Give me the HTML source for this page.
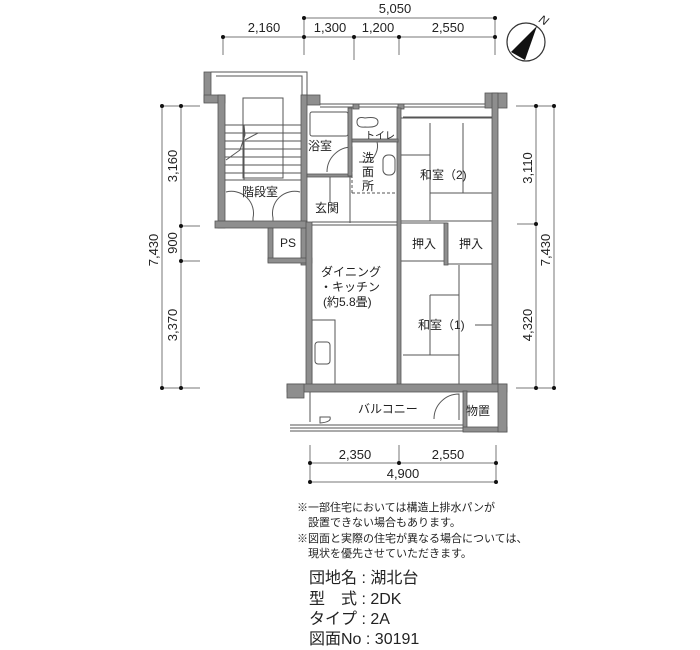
<!DOCTYPE html>
<html><head><meta charset="utf-8"><style>
body{margin:0;background:#fff;width:700px;height:650px;overflow:hidden;font-family:"Liberation Sans","Noto Sans CJK JP",sans-serif;}
svg{position:absolute;left:0;top:0}
.t{font-family:"Liberation Sans","Noto Sans CJK JP",sans-serif;fill:#222}
</style></head><body>
<svg width="700" height="650" viewBox="0 0 700 650">
<g stroke="#777" stroke-width="1" fill="none">
 <line x1="304" y1="18" x2="495" y2="18"/>
 <line x1="223" y1="37" x2="495" y2="37"/>
 <line x1="223" y1="37" x2="223" y2="55"/>
 <line x1="304" y1="18" x2="304" y2="55"/>
 <line x1="354" y1="37" x2="354" y2="60"/>
 <line x1="399" y1="37" x2="399" y2="55"/>
 <line x1="495" y1="18" x2="495" y2="55"/>
 <line x1="162" y1="106" x2="162" y2="388"/>
 <line x1="181" y1="106" x2="181" y2="388"/>
 <line x1="162" y1="106" x2="200" y2="106"/>
 <line x1="162" y1="388" x2="200" y2="388"/>
 <line x1="181" y1="226" x2="200" y2="226"/>
 <line x1="181" y1="261" x2="200" y2="261"/>
 <line x1="536" y1="106" x2="536" y2="388"/>
 <line x1="554" y1="106" x2="554" y2="388"/>
 <line x1="516" y1="106" x2="554" y2="106"/>
 <line x1="516" y1="388" x2="554" y2="388"/>
 <line x1="517" y1="224" x2="536" y2="224"/>
 <line x1="310" y1="463" x2="496" y2="463"/>
 <line x1="310" y1="482" x2="496" y2="482"/>
 <line x1="310" y1="445" x2="310" y2="482"/>
 <line x1="399" y1="445" x2="399" y2="463"/>
 <line x1="496" y1="445" x2="496" y2="482"/>
</g>
<g fill="#111">
 <circle cx="304" cy="18" r="2"/><circle cx="495" cy="18" r="2"/>
 <circle cx="223" cy="37" r="2"/><circle cx="304" cy="37" r="2"/><circle cx="354" cy="37" r="2"/><circle cx="399" cy="37" r="2"/><circle cx="495" cy="37" r="2"/>
 <circle cx="162" cy="106" r="2"/><circle cx="181" cy="106" r="2"/><circle cx="162" cy="388" r="2"/><circle cx="181" cy="388" r="2"/><circle cx="181" cy="226" r="2"/><circle cx="181" cy="261" r="2"/>
 <circle cx="536" cy="106" r="2"/><circle cx="554" cy="106" r="2"/><circle cx="536" cy="388" r="2"/><circle cx="554" cy="388" r="2"/><circle cx="536" cy="224" r="2"/>
 <circle cx="310" cy="463" r="2"/><circle cx="399" cy="463" r="2"/><circle cx="496" cy="463" r="2"/><circle cx="310" cy="482" r="2"/><circle cx="496" cy="482" r="2"/>
</g>
<g class="t" font-size="13" text-anchor="middle">
 <text x="395" y="13">5,050</text>
 <text x="264" y="32">2,160</text>
 <text x="330" y="32">1,300</text>
 <text x="378" y="32">1,200</text>
 <text x="448" y="32">2,550</text>
 <text x="355" y="459">2,350</text>
 <text x="448" y="459">2,550</text>
 <text x="403" y="478">4,900</text>
 <text transform="translate(177,166) rotate(-90)">3,160</text>
 <text transform="translate(177,243) rotate(-90)">900</text>
 <text transform="translate(177,325) rotate(-90)">3,370</text>
 <text transform="translate(158,250) rotate(-90)">7,430</text>
 <text transform="translate(532,168) rotate(-90)">3,110</text>
 <text transform="translate(532,325) rotate(-90)">4,320</text>
 <text transform="translate(550,250) rotate(-90)">7,430</text>
</g>
<circle cx="526" cy="42" r="19" fill="none" stroke="#333" stroke-width="1.2"/>
<polygon points="537,26 511,52 525,60" fill="#111"/>
<text x="540" y="22" font-size="12" font-style="italic" class="t" transform="rotate(30 540 18)">N</text>

<g stroke="#555" stroke-width="1" fill="none">
 <path d="M211 72 H307 V95"/>
 <path d="M216 76 H302 V95"/>
 <rect x="243" y="98" width="40" height="80"/>
 <line x1="225" y1="125" x2="302" y2="125"/><line x1="225" y1="133" x2="302" y2="133"/>
 <line x1="225" y1="141" x2="302" y2="141"/><line x1="225" y1="149" x2="302" y2="149"/>
 <line x1="225" y1="157" x2="302" y2="157"/><line x1="225" y1="165" x2="302" y2="165"/>
 <line x1="225" y1="173" x2="302" y2="173"/><line x1="225" y1="180" x2="302" y2="180"/>
 <path d="M226 160 L240 150 L245 135 L244 125 M245 140 L258 133"/>
 <line x1="244" y1="125" x2="244" y2="180"/>
 <path d="M226 192 A22 22 0 0 1 253 218 L253 222"/>
 <path d="M300 192 A22 22 0 0 0 273 218 L273 222"/>
 <line x1="320" y1="104" x2="485" y2="104"/><line x1="320" y1="107" x2="485" y2="107"/>
 <line x1="403" y1="117" x2="493" y2="117"/>
 <rect x="310" y="112" width="38" height="24" rx="2"/>
 <path d="M330 203 L330 175 M350 174 L350 223"/>
 <path d="M327 172 A25 25 0 0 1 352 147 L352 172"/>
 <path d="M357 122 Q357 116 365 118 Q378 116 378 122 Q378 128 365 127 Q357 128 357 122"/>
 <path d="M376 139 Q381 150 370 162 L359 162"/>
 <rect x="383" y="155" width="12" height="20" rx="5"/>
 <path d="M352 193 H398" stroke-dasharray="3,2"/>
 <path d="M352 175 V193" stroke-dasharray="3,2"/>
 <line x1="401" y1="118" x2="493" y2="118"/>
 <line x1="430" y1="123" x2="430" y2="221"/>
 <line x1="463" y1="123" x2="463" y2="193"/>
 <line x1="401" y1="155" x2="430" y2="155"/>
 <line x1="430" y1="193" x2="493" y2="193"/>
 <line x1="401" y1="221" x2="493" y2="221"/>
 <line x1="400" y1="223" x2="447" y2="223"/><line x1="400" y1="261" x2="447" y2="261"/>
 <line x1="447" y1="264" x2="493" y2="264"/>
 <line x1="459" y1="265" x2="459" y2="390"/>
 <line x1="430" y1="295" x2="459" y2="295"/>
 <line x1="430" y1="295" x2="430" y2="355"/>
 <line x1="403" y1="355" x2="459" y2="355"/>
 <line x1="475" y1="325" x2="493" y2="325"/>
 <rect x="312" y="320" width="23" height="65"/>
 <rect x="315" y="342" width="15" height="22" rx="3"/>
 <line x1="320" y1="387" x2="462" y2="387"/>
 <line x1="290" y1="425" x2="463" y2="425"/><line x1="290" y1="428" x2="463" y2="428"/><line x1="290" y1="431" x2="463" y2="431"/>
 <line x1="310" y1="392" x2="310" y2="422"/>
 <path d="M320 417 H330 Q332 422 320 423 Z"/>
 <path d="M434 419 A25 25 0 0 1 459 394 L459 420"/>
 <line x1="330" y1="175" x2="350" y2="175"/>
 <line x1="312" y1="222" x2="397" y2="222"/>
 <line x1="312" y1="225" x2="397" y2="225"/>
</g>
<g fill="#8e8e8e" stroke="#555" stroke-width="0.8">
 <rect x="204" y="72" width="7" height="30"/>
 <rect x="204" y="95" width="21" height="8"/>
 <rect x="218" y="95" width="7" height="133"/>
 <rect x="302" y="95" width="18" height="10"/>
 <rect x="301" y="95" width="6" height="170"/>
 <rect x="215" y="221" width="92" height="7"/>
 <rect x="268" y="228" width="5" height="34"/>
 <rect x="268" y="258" width="44" height="5"/>
 <rect x="306" y="222" width="6" height="168"/>
 <rect x="353" y="104" width="6" height="5"/><rect x="398" y="104" width="6" height="5"/>
 <rect x="485" y="93" width="22" height="15"/>
 <rect x="492" y="93" width="6" height="297"/>
 <rect x="307" y="174" width="45" height="3"/>
 <rect x="348" y="108" width="4" height="68"/>
 <rect x="397" y="108" width="4" height="282"/>
 <rect x="352" y="139" width="46" height="3"/>
 <rect x="444" y="223" width="4" height="42"/>
 <rect x="287" y="384" width="220" height="8"/>
 <rect x="287" y="384" width="17" height="14"/>
 <rect x="463" y="391" width="4" height="40"/>
 <rect x="463" y="427" width="44" height="5"/>
 <rect x="498" y="384" width="9" height="48"/>
</g>
<g class="t" font-size="12">
 <text x="242" y="196">階段室</text>
 <text x="308" y="150">浴室</text>
 <text x="365" y="139" font-size="10">トイレ</text>
 <text x="362" y="162">洗</text><text x="362" y="176">面</text><text x="362" y="190">所</text>
 <text x="315" y="212">玄関</text>
 <text x="280" y="247">PS</text>
 <text x="420" y="179">和室（2)</text>
 <text x="412" y="248">押入</text>
 <text x="459" y="248">押入</text>
 <text x="321" y="276">ダイニング</text>
 <text x="320" y="291">・キッチン</text>
 <text x="323" y="306">(約5.8畳)</text>
 <text x="418" y="329">和室（1)</text>
 <text x="358" y="413">バルコニー</text>
 <text x="466" y="415">物置</text>
</g>
<g class="t" font-size="11">
 <text x="297" y="511">※一部住宅においては構造上排水パンが</text>
 <text x="308" y="526">設置できない場合もあります。</text>
 <text x="297" y="542">※図面と実際の住宅が異なる場合については、</text>
 <text x="308" y="557">現状を優先させていただきます。</text>
</g>
<g class="t" font-size="16">
 <text x="309" y="583">団地名 : 湖北台</text>
 <text x="309" y="604">型　式 : 2DK</text>
 <text x="309" y="624">タイプ : 2A</text>
 <text x="309" y="644">図面No : 30191</text>
</g>
</svg>
</body></html>
